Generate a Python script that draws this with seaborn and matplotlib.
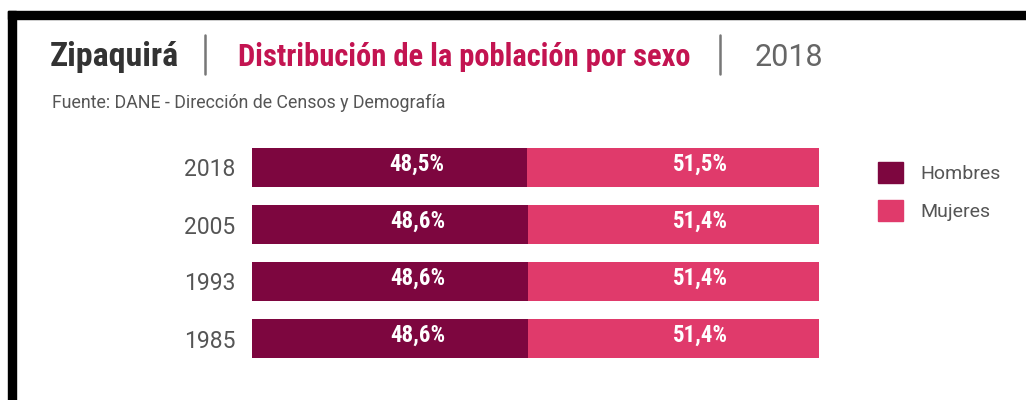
import matplotlib
matplotlib.use("Agg")
import matplotlib.pyplot as plt
from matplotlib import font_manager
from matplotlib.lines import Line2D
from matplotlib.patches import Patch, Rectangle
import pandas as pd
import seaborn as sns

# Data
years = ["2018", "2005", "1993", "1985"]
hombres = [48.5, 48.6, 48.6, 48.6]
mujeres = [51.5, 51.4, 51.4, 51.4]

c_h = "#7D063F"
c_m = "#E03A6B"

installed = {f.name for f in font_manager.fontManager.ttflist}


def pick(*names):
    for n in names:
        if n in installed:
            return n
    return "DejaVu Sans"


cond = pick("Roboto Condensed", "Liberation Sans Narrow", "DejaVu Sans Condensed", "Roboto")
reg = pick("Roboto", "DejaVu Sans")

df = pd.DataFrame({"year": years, "Hombres": hombres, "Mujeres": mujeres})
df["total"] = df["Hombres"] + df["Mujeres"]

sns.set_theme(style="white")
plt.rcParams["font.family"] = [reg, "DejaVu Sans"]

fig = plt.figure(figsize=(10.26, 4), dpi=100)
ax = fig.add_axes([252 / 1026, 1 - 367 / 400, 567 / 1026, 228 / 400])

# stacked bars: full width in Mujeres colour, Hombres on top from 0
sns.barplot(data=df, y="year", x="total", color=c_m, width=0.7, saturation=1,
            linewidth=0, ax=ax)
sns.barplot(data=df, y="year", x="Hombres", color=c_h, width=0.7, saturation=1,
            linewidth=0, ax=ax)

ax.set_xlim(0, 100)
ax.set_xlabel("")
ax.set_ylabel("")
ax.set_xticks([])
ax.tick_params(axis="y", length=0, pad=12, labelsize=16.5, labelcolor="#555555")
sns.despine(ax=ax, left=True, bottom=True)

for i, (h, m) in enumerate(zip(hombres, mujeres)):
    ax.text(h / 2, i - 0.06, f"{h:.1f}%".replace(".", ","), ha="left", va="center",
            color="white", fontsize=16.5, fontweight="bold", family=[cond, "DejaVu Sans"])
    ax.text(h + m / 2, i - 0.06, f"{m:.1f}%".replace(".", ","), ha="left", va="center",
            color="white", fontsize=16.5, fontweight="bold", family=[cond, "DejaVu Sans"])

# header
fig.text(50 / 1026, 1 - 66 / 400, "Zipaquirá", ha="left", va="baseline", fontsize=24.5,
         fontweight="bold", color="#333333", family=[cond, "DejaVu Sans"])
fig.text(238 / 1026, 1 - 66 / 400, "Distribución de la población por sexo", ha="left",
         va="baseline", fontsize=22, fontweight="bold", color="#C31451",
         family=[cond, "DejaVu Sans"])
fig.text(755 / 1026, 1 - 66.5 / 400, "2018", ha="left", va="baseline", fontsize=22,
         color="#666666")
for xs in (205, 720):
    fig.add_artist(Line2D([xs / 1026, xs / 1026], [1 - 35 / 400, 1 - 74 / 400],
                          color="#777777", lw=1.8, transform=fig.transFigure))
fig.text(52 / 1026, 1 - 108 / 400, "Fuente: DANE - Dirección de Censos y Demografía",
         ha="left", va="baseline", fontsize=12.8, color="#555555")

# black frame on top and left
fig.add_artist(Rectangle((8 / 1026, 1 - 19 / 400), 1 - 8 / 1026, 8 / 400,
                         color="black", transform=fig.transFigure))
fig.add_artist(Rectangle((8 / 1026, 0), 8 / 1026, 1 - 11 / 400,
                         color="black", transform=fig.transFigure))

handles = [Patch(color=c_h, label="Hombres"), Patch(color=c_m, label="Mujeres")]
fig.legend(handles=handles, loc="upper left", bbox_to_anchor=(877.7 / 1026, 1 - 162 / 400),
           frameon=False, fontsize=14, handlelength=1.3, handleheight=1.3,
           handletextpad=0.9, labelspacing=0.85, borderpad=0, borderaxespad=0,
           labelcolor="#555555")

fig.savefig("out.png", dpi=100)
